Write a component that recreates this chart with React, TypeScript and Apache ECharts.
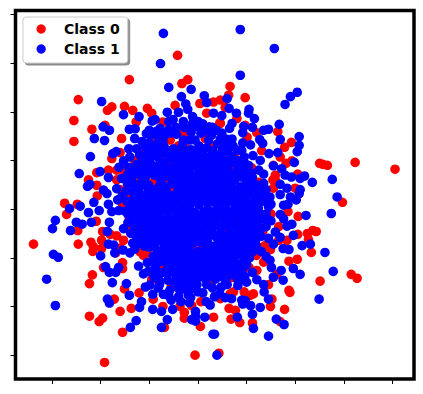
import React, { useEffect, useRef } from "react";
import * as echarts from "echarts";

const xTicks = [-3, -2, -1, 0, 1, 2, 3, 4];
const yTicks = [-3, -2, -1, 0, 1, 2, 3, 4];
const legendNames = ["Class 0", "Class 1"];

const class0Outer: number[][] = [
  [-0.42,3.16],[-1.41,2.66],[-0.21,2.66],[-0.33,2.58],[-2.46,2.25],[-2.55,1.82],[-2.55,1.39],[-1.77,2.10],[-1.86,2.03],[-1.51,2.11],
  [-1.34,2.03],[-1.04,2.07],[-0.95,1.97],[-2.18,1.64],[-1.91,1.72],[-1.57,1.45],[-1.27,1.79],[-0.47,2.13],[0.04,2.17],[0.18,1.97],
  [-1.84,0.80],[-2.08,0.75],[-2.25,0.60],[-2.08,0.49],[-2.07,0.27],[-1.67,0.60],[-1.67,0.80],[-1.77,1.04],[-1.60,1.16],[-0.72,1.79],
  [-0.31,1.56],[-0.2,1.52],[-0.57,1.42],[-0.85,1.48],[-0.98,1.35],
  [-2.74,0.12],[-2.48,0.10],[-2.7,-0.11],[-2.09,-0.25],[-2.47,-0.44],[-3.38,-0.72],[-2.46,-0.72],[-1.96,-0.46],[-2.2,-0.68],[-2.15,-0.77],
  [-2.16,-0.87],[-1.98,-0.64],[-1.98,-0.81],[-1.8,-0.52],[-1.67,-0.55],[-1.53,-0.64],[-1.69,-0.9],[-1.55,-1.10],[-1.55,-1.22],[-1.94,-1.2],
  [-2.17,-1.35],[-2.23,-1.53],[-1.51,-1.64],[-1.72,-1.85],[-1.21,-1.72],[-1.37,-2.04],[-1.6,-2.1],[-2.23,-2.2],[-1.96,-2.24],[-2.03,-2.31],
  [-1.55,-2.53],[-1.92,-3.15],[-0.06,-3.0],[0.05,-2.41],[-0.28,-2.24],[-0.28,-2.12],[-0.69,-2.43],[-0.72,-2.0],[-0.92,-1.85],[0.06,-1.9],
  [-0.13,-1.98],[-0.88,-1.27],[-1.15,-0.85],[-1.12,-0.95],[-1.04,-0.9],[-1.6,-0.8],[-0.66,-1.16],[-0.37,-2.0],
  [0.66,2.52],[0.97,2.29],[0.63,2.34],[0.46,2.24],[0.32,2.2],[0.56,2.09],[0.80,1.86],[0.46,1.76],[0.97,1.72],[1.21,1.57],
  [1.64,1.59],[1.01,1.48],[1.92,1.37],[1.78,1.27],[1.31,1.2],[1.69,1.07],[1.81,0.94],[1.93,0.99],[2.5,0.94],[2.57,0.92],
  [2.66,0.9],[3.23,0.96],[4.05,0.82],[1.55,0.9],[1.59,0.7],[2.05,0.72],[1.55,0.43],[1.59,0.6],[0.73,0.9],[2.0,0.43],[1.35,0.33],
  [2.97,0.14],[1.85,-0.05],[2.06,-0.15],[2.43,-0.46],[2.36,-0.44],[2.25,-0.5],[2.05,-0.52],[2.27,-0.62],[2.33,-0.89],[2.04,-1.03],
  [1.87,-1.07],[3.15,-1.34],[3.27,-1.42],[2.51,-1.48],[1.87,-1.67],[1.89,-1.71],[1.78,-2.06],[1.49,-2.0],[1.52,-1.85],[1.69,-2.31],
  [1.12,-2.34],[0.86,-2.33],[0.68,-2.26],[0.64,-2.04],[0.77,-2.08],[0.32,-2.22],[0.43,-2.96],[1.14,-1.74],[1.07,-1.77],[0.95,-1.7],
  [1.45,-1.55],[1.21,-1.26],[0.66,-1.74],[0.73,-1.7],[0.46,-1.84],[1.62,-1.34],[1.49,-0.83],[1.38,-0.75],[1.83,-0.64],[1.66,-0.64],
  [1.66,-0.36],[1.33,-0.47],[1.35,-1.09],
];

const class0Inner: number[][] = [
  [-0.57,0.94],[-0.7,1.05],[-0.92,1.42],[-0.92,0.55],[-1.25,0.6],[-1.53,0.8],[-0.64,0.55],[-0.53,0.39],[-0.82,0.33],[-1.45,0.3],
  [-1.19,-0.88],[-1.28,-0.78],[-0.74,-1.19],[-0.78,-0.6],[-0.39,-0.84],[-0.1,-0.8],[0.1,-0.78],[-0.2,-1.15],[0.0,-0.16],[0.82,-0.23],
  [0.9,-0.28],[1.23,-0.49],[1.33,-0.78],[0.92,-0.9],[0.7,-1.4],[0.25,-0.8],[0.45,1.77],[0.7,0.86],[0.39,1.0],[1.54,0.6],
  [-1.1,1.15],[-1.3,1.0],[-0.4,1.3],[-0.25,1.25],[0.15,1.45],[0.3,1.3],[0.75,1.1],[1.1,0.85],[1.25,0.55],[1.45,0.15],
  [1.5,-0.1],[-1.6,0.4],[-1.55,0.1],[-1.42,-0.15],[-1.4,-0.45],[-0.95,-1.45],[-0.55,-1.6],[-0.2,-1.7],[0.3,-1.45],[1.05,-1.2],
  [1.2,-0.95],[0.55,-1.1],[-0.9,-1.05],[-1.05,-0.65],[-0.6,-0.3],[0.35,0.2],[-0.25,0.65],[0.5,-0.5],[-0.3,-0.4],[0.2,0.6],
];

const class1Outer: number[][] = [
  [-0.71,3.61],[-0.77,2.99],[-0.6,2.5],[-0.14,2.46],[-0.34,2.31],[-1.98,2.21],[-0.25,2.16],[0.13,2.33],[0.18,2.19],[-0.21,2.05],
  [-0.4,1.99],[-0.63,1.99],[-1.53,1.94],[-1.21,1.90],[-0.11,1.90],[-0.88,1.84],[-0.94,1.81],[-0.51,1.84],[-0.6,1.80],[-0.11,1.76],
  [-0.11,1.72],[0.23,1.69],[-1.95,1.69],[-1.82,1.62],[-2.13,1.45],[-1.92,1.41],[-1.41,1.64],[-1.29,1.65],[-1.06,1.55],[-0.78,1.66],
  [-0.44,1.54],[-0.6,1.63],[-2.21,1.08],[-2.44,0.73],[-1.68,1.18],[-1.75,1.14],[-1.42,1.24],[-1.26,1.24],[-1.15,1.39],[-1.07,1.10],
  [-1.40,1.07],[-1.53,0.99],[-1.62,0.86],[-2.01,0.77],[-1.84,0.65],[-2.27,0.47],[-2.22,0.51],[-1.94,0.39],[-1.87,0.32],[-1.67,0.42],
  [-1.57,0.63],[-1.41,0.56],[-1.48,0.37],[-1.33,0.34],
  [-2.64,0.01],[-2.42,0.06],[-2.14,0.14],[-2.25,-0.07],[-2.03,-0.03],[-1.84,0.10],[-1.77,-0.05],[-1.63,-0.03],[-1.65,0.19],[-2.93,-0.23],
  [-2.99,-0.40],[-2.62,-0.44],[-2.5,-0.27],[-2.38,-0.31],[-2.19,-0.27],[-1.82,-0.27],[-1.86,-0.46],[-2.97,-0.93],[-2.87,-0.99],[-3.11,-1.44],
  [-2.93,-1.98],[-2,-0.96],[-1.84,-0.72],[-1.73,-0.74],[-1.71,-0.90],[-1.54,-0.84],[-1.40,-0.9],[-1.9,-1.18],[-1.82,-1.30],[-1.76,-1.51],
  [-1.63,-1.2],[-1.69,-1.3],[-1.47,-1.53],[-1.41,-1.77],[-1.86,-1.85],[-1.82,-1.93],[-1.22,-1.17],[-1.12,-1.33],[-1.08,-1.6],[-1.16,-1.9],
  [-1.2,-2.02],[-1.27,-2.29],[-1.39,-2.43],[-0.93,-2.06],[-0.75,-2.1],[-0.75,-2.43],[-0.63,-2.27],[-0.52,-2.06],[-0.93,-1.75],[-0.99,-1.56],
  [-0.71,-1.75],[-0.55,-1.87],[-0.79,-1.55],[-0.05,-2.1],[-0.05,-2.2],[-0.13,-2.27],[-0.05,-2.3],[0.14,-2.22],[0.31,-2.57],[0.17,-1.9],
  [0.25,-1.97],[-0.18,-1.92],[-0.35,-1.9],[-0.37,-1.67],[-0.58,-1.67],[-0.09,-1.63],[0.18,-1.55],[-0.02,-1.55],[-0.33,-1.47],[-0.5,-1.5],
  [-0.88,-1.2],[-1.02,-1.28],[-0.92,-0.97],[-1.26,-0.62],[-1.53,-0.4],[-1.44,-0.28],
  [0.87,3.69],[1.57,3.3],[0.87,2.75],[2.04,2.4],[1.9,2.31],[1.79,2.15],[0.6,2.27],[1.05,2.05],[1.04,1.97],[1.16,1.86],
  [0.64,2.07],[0.79,1.97],[0.49,1.92],[0.32,1.97],[1.67,1.74],[1.45,1.64],[1.35,1.62],[1.12,1.68],[0.94,1.7],[0.92,1.57],
  [0.7,1.76],[0.65,1.66],[1.69,1.43],[2.08,1.49],[2.08,1.31],[2.04,1.18],[1.27,1.43],[1.33,1.35],[1.46,1.14],[1.64,1.16],
  [1.98,0.96],[1.55,0.89],[1.72,0.83],[1.79,0.7],[1.92,0.66],[2.19,0.68],[2.1,0.63],[2.35,0.55],[2.76,0.61],[2.86,0.25],
  [1.69,0.51],[1.83,0.43],[2.1,0.4],[2.08,0.32],[1.35,0.53],[1.25,0.8],[1.35,0.72],[1.04,0.9],[1.12,0.65],[0.97,0.93],
  [1.13,1.1],[1.08,1.32],[0.92,1.36],[0.82,1.21],[0.95,1.07],[0.56,1.15],[0.7,1.44],[0.49,1.56],[0.38,1.62],[1.69,0.3],
  [1.9,0.25],[1.48,0.25],[1.14,0.32],[0.66,0.94],[0.49,1.0],[0.87,0.46],
  [2.74,-0.09],[2.22,-0.13],[1.93,-0.31],[1.83,-0.35],[1.69,-0.11],[1.76,-0.2],[1.85,0.1],[1.76,0.08],[2.02,0.19],[1.96,-0.54],
  [1.69,-0.58],[1.59,-0.47],[2.14,-0.75],[2.31,-0.72],[2.61,-0.89],[1.87,-0.83],[1.75,-0.81],[2.78,-1.28],[1.96,-1.22],[2.1,-1.34],
  [1.71,-1.26],[1.55,-1.4],[1.75,-1.46],[2.49,-1.85],[1.45,-1.85],[1.28,-2.02],[1.08,-1.98],[1.12,-2.16],[0.9,-1.87],[0.97,-1.88],
  [0.92,-1.95],[0.81,-2.22],[1.61,-2.26],[1.77,-2.37],[1.14,-2.45],[1.45,-2.61],[0.34,-2.57],[0.39,-3.0],[0.69,-1.84],[0.56,-1.82],
  [0.34,-1.8],[0.48,-1.6],[0.82,-1.57],[1.0,-1.5],[0.73,-1.35],[1.12,-1.3],[1.21,-1.45],[1.35,-1.55],[1.36,-1.7],[1.51,-1.2],
  [1.48,-1.05],[1.3,-0.87],[1.4,-0.97],[1.3,-0.56],[1.07,-0.43],[0.88,-0.3],[1.12,-0.1],[1.33,-0.2],
];

const class1Core: number[][] = [
  [-1.08,1.28],[-0.84,1.24],[-0.7,1.3],[-0.5,1.24],[-0.32,1.32],[-0.14,1.22],[0.02,1.3],[0.18,1.26],[0.4,1.34],[0.58,1.3],
  [-1.2,1.12],[-0.94,1.12],[-0.82,1.06],[-0.46,1.08],[-0.28,1.14],[-0.1,1.06],[0.07,1.14],[0.24,1.08],[0.5,1.22],[0.72,1.3],
  [-1.26,0.92],[-1.1,0.96],[-0.94,0.9],[-0.78,0.92],[-0.42,0.9],[-0.24,0.96],[-0.06,0.9],[0.12,0.96],[0.28,0.9],[0.5,0.86],
  [-1.42,0.86],[-1.16,0.78],[-1.02,0.74],[-0.84,0.74],[-0.68,0.74],[-0.5,0.74],[-0.34,0.78],[-0.16,0.74],[0.02,0.78],[0.2,0.76],[0.38,0.76],[0.56,0.72],[0.82,0.74],[0.98,0.72],
  [-1.35,0.68],[-1.1,0.52],[-0.76,0.56],[-0.46,0.58],[-0.3,0.6],[-0.12,0.58],[0.06,0.62],[0.24,0.58],[0.42,0.6],[0.6,0.56],[0.76,0.6],[1.0,0.56],
  [-1.24,0.42],[-1.02,0.4],[-0.66,0.4],[-0.4,0.42],[-0.22,0.44],[-0.04,0.42],[0.14,0.46],[0.32,0.42],[0.5,0.44],[0.7,0.42],[1.02,0.42],[1.24,0.38],
  [-1.3,0.2],[-1.14,0.26],[-0.96,0.24],[-0.72,0.2],[-0.58,0.24],[-0.4,0.26],[-0.22,0.26],[-0.06,0.26],[0.12,0.28],[0.3,0.26],[0.46,0.28],[0.64,0.26],[0.82,0.28],[0.98,0.24],[1.3,0.16],
  [-1.46,0.16],[-1.24,0.06],[-1.06,0.1],[-0.88,0.08],[-0.7,0.06],[-0.52,0.1],[-0.34,0.08],[-0.16,0.1],[0.02,0.08],[0.2,0.12],[0.38,0.1],[0.56,0.1],[0.74,0.12],[0.92,0.08],[1.08,0.12],[1.24,0.02],
  [-1.5,-0.04],[-1.32,-0.06],[-1.16,-0.08],[-0.98,-0.08],[-0.8,-0.08],[-0.62,-0.08],[-0.44,-0.06],[-0.26,-0.08],[-0.1,-0.06],[0.12,-0.06],[0.3,-0.06],[0.48,-0.08],[0.66,-0.06],[0.84,-0.06],[1.0,-0.1],[1.18,-0.16],
  [-1.22,-0.22],[-1.06,-0.24],[-0.88,-0.24],[-0.72,-0.26],[-0.54,-0.22],[-0.36,-0.24],[-0.18,-0.24],[0.0,-0.28],[0.18,-0.24],[0.36,-0.24],[0.54,-0.22],[0.7,-0.24],[1.02,-0.26],[1.22,-0.32],
  [-1.3,-0.38],[-1.12,-0.42],[-0.96,-0.4],[-0.78,-0.42],[-0.6,-0.44],[-0.44,-0.4],[-0.26,-0.44],[-0.08,-0.42],[0.1,-0.42],[0.28,-0.4],[0.46,-0.38],[0.64,-0.42],[0.82,-0.44],[0.98,-0.46],
  [-1.08,-0.58],[-0.92,-0.58],[-0.66,-0.6],[-0.5,-0.58],[-0.34,-0.6],[-0.16,-0.6],[0.02,-0.6],[0.2,-0.58],[0.38,-0.58],[0.56,-0.6],[0.74,-0.58],[0.92,-0.62],[1.1,-0.62],
  [-0.9,-0.76],[-0.7,-0.78],[-0.54,-0.76],[-0.28,-0.74],[0.0,-0.66],[0.34,-0.76],[0.5,-0.76],[0.68,-0.78],[0.84,-0.76],[1.04,-0.78],[1.2,-0.76],
  [-0.78,-0.94],[-0.62,-0.94],[-0.46,-0.98],[-0.3,-0.96],[-0.12,-0.96],[0.06,-0.94],[0.24,-0.96],[0.42,-0.94],[0.6,-0.94],[0.76,-0.96],[1.06,-1.0],
  [-0.6,-1.1],[-0.42,-1.14],[-0.04,-1.12],[0.12,-1.1],[0.3,-1.12],[0.48,-1.14],[0.66,-1.12],[0.84,-1.14],[1.0,-1.14],
  [-0.58,-1.3],[-0.42,-1.3],[-0.24,-1.3],[-0.06,-1.28],[0.12,-1.3],[0.3,-1.3],[0.5,-1.3],[0.88,-1.3],
  [-0.2,-1.44],[-0.02,-1.42],[0.14,-1.42],[0.36,-1.44],[0.56,-1.46],
  [-0.3,1.42],[-0.06,1.42],[0.12,1.6],[0.22,1.42],[0.46,1.44],[-0.14,1.58],[-0.96,1.24],
];

const class1Fill: number[][] = [
  [-1.0,1.2],[-0.6,1.2],[-0.4,1.2],[-0.22,1.2],[-0.05,1.2],[0.1,1.2],[0.3,1.2],[0.6,1.2],
  [-1.14,1.02],[-1.0,1.02],[-0.36,1.02],[-0.18,1.02],[0.0,1.02],[0.16,1.02],[0.56,1.02],
  [-1.2,0.84],[-1.02,0.84],[-0.86,0.84],[-0.34,0.84],[-0.16,0.84],[0.02,0.84],[0.2,0.84],[0.5,0.76],[0.9,0.84],
  [-1.08,0.66],[-0.8,0.66],[-0.42,0.66],[-0.24,0.66],[-0.06,0.66],[0.12,0.66],[0.3,0.66],[0.5,0.66],[0.68,0.66],[0.9,0.66],
  [-1.16,0.49],[-0.4,0.49],[-0.22,0.49],[-0.04,0.49],[0.14,0.49],[0.32,0.49],[0.5,0.49],[0.68,0.49],[1.1,0.49],
  [-1.2,0.33],[-1.02,0.33],[-0.3,0.33],[-0.14,0.33],[0.04,0.33],[0.22,0.33],[0.4,0.33],[0.58,0.33],[0.76,0.33],[0.92,0.33],[1.1,0.33],
  [-1.36,0.17],[-1.2,0.17],[-1.02,0.17],[-0.84,0.17],[-0.64,0.17],[-0.48,0.17],[-0.3,0.17],[-0.14,0.17],[0.04,0.17],[0.22,0.17],[0.38,0.17],[0.56,0.17],[0.74,0.17],[0.9,0.17],[1.16,0.17],
  [-1.4,0.0],[-1.2,0.0],[-1.06,0.0],[-0.9,0.0],[-0.72,0.0],[-0.54,0.0],[-0.36,0.0],[-0.18,0.0],[0.2,0.0],[0.4,0.0],[0.58,0.0],[0.76,0.0],[0.92,0.0],[1.08,0.0],
  [-1.3,-0.16],[-1.14,-0.16],[-0.96,-0.16],[-0.8,-0.16],[-0.62,-0.16],[-0.44,-0.16],[-0.28,-0.16],[0.2,-0.16],[0.38,-0.16],[0.56,-0.16],[0.7,-0.16],[1.1,-0.16],
  [-1.2,-0.33],[-1.04,-0.33],[-0.88,-0.33],[-0.7,-0.33],[-0.52,-0.33],[-0.34,-0.33],[-0.16,-0.33],[0.0,-0.33],[0.18,-0.33],[0.36,-0.33],[0.54,-0.33],[0.72,-0.33],[0.9,-0.4],[1.1,-0.33],
  [-1.16,-0.5],[-1.0,-0.5],[-0.86,-0.5],[-0.58,-0.5],[-0.42,-0.5],[-0.24,-0.5],[-0.06,-0.5],[0.12,-0.5],[0.3,-0.5],[0.46,-0.5],[0.64,-0.5],[0.84,-0.5],[1.02,-0.5],
  [-0.98,-0.68],[-0.58,-0.68],[-0.44,-0.68],[-0.26,-0.68],[0.2,-0.68],[0.44,-0.68],[0.6,-0.68],[0.76,-0.68],[0.96,-0.68],[1.14,-0.68],
  [-0.84,-0.86],[-0.68,-0.86],[-0.54,-0.86],[0.42,-0.86],[0.58,-0.86],[0.74,-0.86],[1.14,-0.86],
  [-0.7,-1.04],[-0.52,-1.04],[-0.36,-1.04],[0.0,-1.04],[0.18,-1.04],[0.38,-1.04],[0.56,-1.04],[0.72,-1.04],
  [-0.5,-1.22],[-0.32,-1.22],[-0.14,-1.22],[0.04,-1.22],[0.22,-1.22],[0.4,-1.22],[0.6,-1.22],[0.92,-1.22],
  [-0.44,-1.38],[-0.28,-1.38],[-0.1,-1.38],[0.08,-1.38],[0.28,-1.38],[0.46,-1.38],[0.96,-1.38],
  [-0.72,1.42],[-0.56,1.56],[-1.3,1.45],[-1.0,1.62],[-0.85,1.6],[-0.78,1.44],[-0.68,1.52],
  [-1.36,0.14],[-1.56,0.26],[-1.44,0.6],[-1.3,0.44],[-1.45,0.52],[-1.38,-0.5],[-1.34,-0.7],[-1.3,-0.82],[-1.44,0.72],[-1.36,0.8],
  [-0.9,-1.4],[-0.62,-1.46],[-0.8,-1.46],[-0.4,-1.62],[-0.2,-1.76],[0.0,-1.7],[0.3,-1.62],[0.45,-1.74],[0.1,-1.72],[0.6,-1.55],[0.88,-1.44],
  [1.2,-0.04],[1.18,0.2],[1.4,-0.1],[1.45,0.05],[1.18,-0.66],[1.25,0.18],[1.1,0.74],[1.2,0.5],[1.4,0.4],[0.8,1.0],[0.7,1.08],[0.98,0.78],[1.28,1.0],
];

const class1NearGaps: number[][] = [
  [-0.9,0.7],[-0.9,0.4],[-0.8,0.46],[-1.02,0.5],[-0.62,0.68],[-0.56,0.66],[-0.76,0.44],[-0.66,0.46],[-0.54,0.52],[-0.42,0.36],
  [-0.6,0.3],[-0.5,0.28],[-0.92,0.3],[-0.74,0.3],[-0.84,0.22],[-1.25,0.72],[-1.14,0.64],[-1.36,0.55],[-1.24,0.5],
  [-0.68,0.96],[-0.58,1.06],[-0.48,0.98],[-0.56,0.84],[-0.68,0.84],[-0.72,1.16],[-0.62,1.12],[-0.82,1.14],
  [-1.0,1.36],[-0.84,1.34],[-0.9,1.3],[-0.98,1.52],[-0.86,1.52],
  [-0.42,-0.74],[-0.3,-0.86],[-0.46,-0.88],[-0.38,-0.94],[-0.2,-0.74],[-0.2,-0.86],[-0.1,-0.7],[-0.08,-0.9],
  [0.1,-0.68],[0.12,-0.88],[0.02,-0.86],[0.18,-0.74],[0.34,-0.84],[0.26,-0.88],
  [-0.28,-1.12],[-0.14,-1.06],[-0.12,-1.16],[-0.22,-1.05],[-0.76,-1.08],[-0.62,-1.2],[-0.72,-1.3],[-0.82,-1.3],[-0.86,-1.1],
  [-0.86,-0.66],[-0.72,-0.68],[-0.68,-0.5],[-0.78,-0.5],[0.08,-0.18],[-0.1,-0.16],[-0.04,-0.1],[0.06,-0.24],
  [0.92,-0.18],[0.84,-0.14],[0.98,-0.32],[0.74,-0.32],[0.8,-0.34],[1.14,-0.5],[1.2,-0.4],[1.3,-0.4],[1.22,-0.58],
  [0.84,-0.94],[1.0,-0.88],[0.94,-1.0],[0.96,-0.8],[0.62,-1.3],[0.78,-1.3],[0.72,-1.22],[0.58,-1.42],[0.82,-1.46],
  [0.72,0.74],[0.82,0.86],[0.6,0.86],[0.7,0.98],[0.4,0.88],[0.3,1.0],[0.48,1.08],[0.36,1.12],
  [-1.3,-0.22],[-1.44,-0.1],[-1.3,-0.52],[-1.19,-0.7],[-1.1,-0.76],[-1.0,-0.78],
  [0.1,1.75],[0.28,1.52],[0.3,1.68],[0.58,1.44],[0.7,1.28],[0.9,1.2],
  [1.28,-0.1],[1.3,0.3],[1.4,0.15],[1.5,0.1],[1.5,-0.24],[1.4,-0.36],[1.45,-0.6],[1.55,-0.72],
  [-1.04,-1.1],[-0.94,-1.3],[-0.82,-1.62],[-0.6,-1.78],[-0.4,-1.8],[-0.26,-1.6],[-0.14,-1.52],[-0.15,-1.82],
  [-0.28,1.68],[-0.45,1.68],[0.0,1.8],[-0.16,1.42],[0.06,1.56],[-0.02,1.7],[-0.3,1.8],
];

export default function App() {
  const ref = useRef<HTMLDivElement>(null);
  useEffect(() => {
    const chart = echarts.init(ref.current!, undefined, { renderer: "svg" });
    chart.setOption({
      animation: false,
      backgroundColor: "#ffffff",
      grid: {
        show: true, left: 15.5, top: 10.5, width: 398.5, height: 368.5,
        borderColor: "#000000", borderWidth: 3.5, backgroundColor: "transparent",
      },
      xAxis: {
        type: "value", min: -3.75, max: 4.44, scale: true,
        axisLine: { show: false, onZero: false }, axisLabel: { show: false }, splitLine: { show: false },
        axisTick: { show: true, length: 5, lineStyle: { color: "#000", width: 1 }, customValues: xTicks },
      },
      yAxis: {
        type: "value", min: -3.49, max: 4.08, scale: true,
        axisLine: { show: false, onZero: false }, axisLabel: { show: false }, splitLine: { show: false },
        axisTick: { show: true, length: 5, lineStyle: { color: "#000", width: 1 }, customValues: yTicks },
      },
      legend: {
        left: 23, top: 17, orient: "vertical", data: legendNames,
        padding: [5, 8, 7, 13.5], itemWidth: 35.5, itemHeight: 9.3, itemGap: 6,
        backgroundColor: "#ffffff", borderColor: "#cccccc", borderWidth: 1, borderRadius: 3,
        shadowColor: "#8a8a8a", shadowBlur: 0, shadowOffsetX: 2, shadowOffsetY: 2,
        icon: "circle",
        textStyle: { fontFamily: "DejaVu Sans", fontWeight: "bold", fontSize: 14, color: "#000" },
      },
      series: [
        { name: legendNames[0], type: "scatter", symbolSize: 9.6, itemStyle: { color: "#ff0000", opacity: 1 }, data: [...class0Outer, ...class0Inner] },
        { name: legendNames[1], type: "scatter", symbolSize: 9.6, itemStyle: { color: "#0000ff", opacity: 1 }, data: [...class1Outer, ...class1Core, ...class1Fill, ...class1NearGaps] },
      ],
    });
    return () => chart.dispose();
  }, []);
  return <div ref={ref} style={{ width: 423, height: 394, position: "absolute", left: 0, top: 0 }} />;
}
